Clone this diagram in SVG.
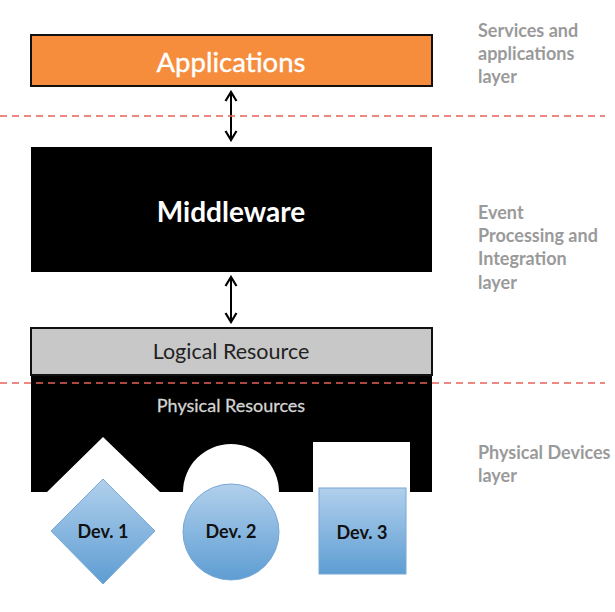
<svg xmlns="http://www.w3.org/2000/svg" width="615" height="612" viewBox="0 0 615 612">
<defs>
<linearGradient id="blue" x1="0" y1="0" x2="0" y2="1">
<stop offset="0" stop-color="#B1D0EC"/>
<stop offset="1" stop-color="#5E9DD3"/>
</linearGradient>
<marker id="chev" viewBox="0 0 14 14" refX="12" refY="7" markerWidth="14" markerHeight="14" markerUnits="userSpaceOnUse" orient="auto-start-reverse">
<polyline points="3,1.5 12,7 3,12.5" fill="none" stroke="#000" stroke-width="2.2"/>
</marker>
</defs>
<style>
.lbl{font-family:Lato,"Liberation Sans",sans-serif;font-weight:bold;font-size:18px;fill:#9a9a9a}
.dash{stroke:#E8605A;stroke-width:1.5;stroke-dasharray:7,5;fill:none}
.dev{fill:url(#blue);stroke:#78A8D6;stroke-width:1}
.devt{font-family:Lato,"Liberation Sans",sans-serif;font-weight:bold;font-size:18px;fill:#111;text-anchor:middle}
.conn{stroke:#000;stroke-width:2;fill:none;marker-start:url(#chev);marker-end:url(#chev)}
</style>
<rect width="615" height="612" fill="#fff"/>

<g id="applications">
<rect x="31" y="35" width="401" height="51" fill="#F58D3C" stroke="#111" stroke-width="2"/>
<text x="231" y="72" font-family="Lato,Liberation Sans,sans-serif" font-size="27.5" fill="#fff" stroke="#fff" stroke-width="0.4" text-anchor="middle">Applications</text>
</g>

<g id="middleware">
<rect x="31" y="147" width="401" height="125" fill="#000"/>
<text x="231" y="222" font-family="Lato,Liberation Sans,sans-serif" font-size="28" font-weight="bold" fill="#fff" text-anchor="middle">Middleware</text>
</g>

<g id="physical-resources">
<path d="M31,375 H432 V492 H410 V442 H313 V492 H279 A48,48 0 0 0 183,492 H160 L103,437 L47,492 H31 Z" fill="#000"/>
<text x="231" y="412" font-family="Lato,Liberation Sans,sans-serif" font-size="18" fill="#d4d4d4" stroke="#d4d4d4" stroke-width="0.3" text-anchor="middle">Physical Resources</text>
</g>

<g id="logical-resource">
<rect x="31" y="328" width="401" height="47" fill="#C8C8C8" stroke="#111" stroke-width="2"/>
<text x="231" y="359" font-family="Lato,Liberation Sans,sans-serif" font-size="21.5" fill="#222" text-anchor="middle">Logical Resource</text>
</g>

<g id="dev1">
<polygon class="dev" points="103,479 155,531 103,584 51,531"/>
<text class="devt" x="103" y="538">Dev. 1</text>
</g>
<g id="dev2">
<circle class="dev" cx="231" cy="532" r="48"/>
<text class="devt" x="231" y="538">Dev. 2</text>
</g>
<g id="dev3">
<rect class="dev" x="319" y="488" width="87" height="86"/>
<text class="devt" x="362" y="539">Dev. 3</text>
</g>

<g id="connectors">
<line class="conn" x1="231" y1="92" x2="231" y2="140"/>
<line class="conn" x1="231" y1="277" x2="231" y2="322"/>
</g>

<g id="dividers">
<line class="dash" x1="0" y1="116" x2="605" y2="116"/>
<line class="dash" x1="0" y1="383" x2="605" y2="383"/>
</g>

<g id="layer-labels">
<text class="lbl" x="478" y="37">Services and</text>
<text class="lbl" x="478" y="60">applications</text>
<text class="lbl" x="478" y="83">layer</text>
<text class="lbl" x="478" y="219">Event</text>
<text class="lbl" x="478" y="242">Processing and</text>
<text class="lbl" x="478" y="265">Integration</text>
<text class="lbl" x="478" y="289">layer</text>
<text class="lbl" x="478" y="459">Physical Devices</text>
<text class="lbl" x="478" y="482">layer</text>
</g>
</svg>
